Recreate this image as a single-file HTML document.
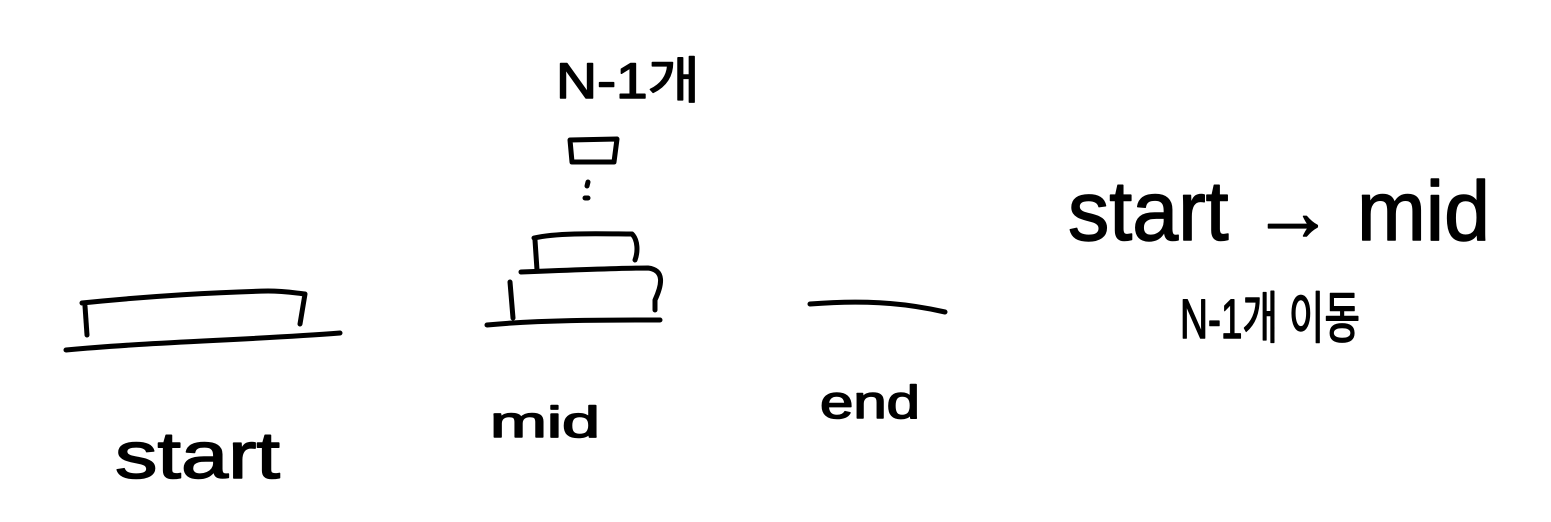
<!DOCTYPE html>
<html><head><meta charset="utf-8"><style>
html,body{margin:0;padding:0;background:#fff;}
svg{display:block}
text{font-family:"Liberation Sans","Noto Sans CJK KR",sans-serif;fill:#000;stroke:#000;stroke-width:1.5;}
</style></head><body>
<svg width="1551" height="522" viewBox="0 0 1551 522" fill="none" stroke="#000" stroke-width="5" stroke-linecap="round" stroke-linejoin="round">
<g>
<path d="M66 350 C150 342 250 340 340 333"/>
<path d="M82 303 C150 296 220 292 268 291 C285 291 295 293 305 294 L300 324"/>
<path d="M85 306 L87 335"/>
</g>
<g>
<path d="M487 325 C540 320 600 320 660 320"/>
<path d="M510 282 L513 318"/>
<path d="M521 272 C570 270 620 268 648 268 C665 270 662 285 655 300 L655 310"/>
<path d="M534 238 C560 232 610 234 632 234 C638 240 638 252 635 260"/>
<path d="M535 240 L537 270"/>
<path d="M570 140 L617 139 L614 162 L572 162 Z"/>
<path d="M588 182 L587 186"/>
<path d="M585 198 L588 198"/>
</g>
<g>
<path d="M810 304 C860 300 900 302 945 312"/>
</g>
<g>
<text x="115" y="478" font-size="66" textLength="165" lengthAdjust="spacingAndGlyphs">start</text>
<text x="490" y="437" font-size="44" textLength="110" lengthAdjust="spacingAndGlyphs">mid</text>
<text x="820" y="418" font-size="46" textLength="100" lengthAdjust="spacingAndGlyphs">end</text>
<text x="556" y="98" font-size="50" textLength="144" lengthAdjust="spacingAndGlyphs">N-1개</text>
<text x="1068" y="240" font-size="84" textLength="422" lengthAdjust="spacingAndGlyphs">start → mid</text>
<text x="1180" y="338" font-size="56" textLength="180" lengthAdjust="spacingAndGlyphs">N-1개 이동</text>
</g>
</svg>
</body></html>
